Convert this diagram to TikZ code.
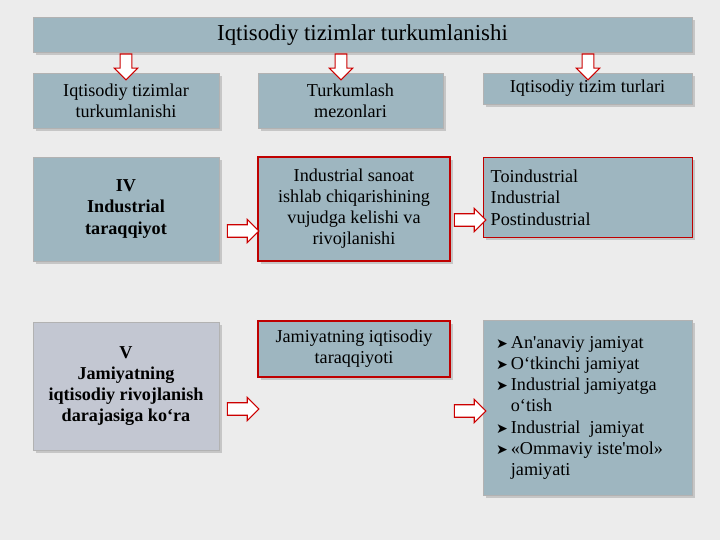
\documentclass[tikz,border=0pt]{standalone}
\usepackage{fontspec}
\setmainfont{Liberation Serif}
\newfontfamily\symfont{DejaVu Sans}
\newfontfamily\nomapfont{Liberation Serif}[Ligatures=ResetAll]
\usetikzlibrary{shapes.arrows,shadows,positioning}
\newcommand{\arrbullet}{{\symfont\fontsize{12}{14}\selectfont ➤}}
\newcommand{\apos}{{\nomapfont '}}
\tikzset{
  box/.style={draw=gray!60, fill=boxblue, drop shadow={opacity=.35}, inner sep=3pt,
    align=center, font=\fontsize{15.5}{18}\selectfont},
  redbox/.style={box, draw=red!75!black, line width=1.2pt},
  barrow/.style={single arrow, draw=red!80!black, fill=white, line width=.9pt,
    minimum height=27pt, minimum width=20pt, single arrow head extend=3pt, inner sep=3pt},
}
\definecolor{boxblue}{HTML}{9EB6C0}
\definecolor{boxgray}{HTML}{C3C7D2}
\begin{document}
\begin{tikzpicture}[x=0.03cm,y=-0.03cm]
\fill[gray!15] (0,0) rectangle (720,540);
% sarlavha
\node[box, minimum width=659*0.03cm, minimum height=35*0.03cm, font=\fontsize{19.5}{22}\selectfont] (title) at (362.5,35) {Iqtisodiy tizimlar turkumlanishi};
% birinchi qator
\node[box, minimum width=186*0.03cm, minimum height=55*0.03cm] (a1) at (126,100.5) {Iqtisodiy tizimlar\\turkumlanishi};
\node[box, minimum width=185*0.03cm, minimum height=55*0.03cm] (a2) at (350.5,100.5) {Turkumlash\\mezonlari};
\node[box, minimum width=209*0.03cm, minimum height=31*0.03cm] (a3) at (587.5,88.5) {Iqtisodiy tizim turlari};
\foreach \n/\x in {d1/126,d2/341,d3/588}
  \node[barrow, rotate=-90, minimum height=22pt, inner sep=2.5pt] (\n) at (\x,64) {};
% ikkinchi qator
\node[box, minimum width=186*0.03cm, minimum height=104*0.03cm, font=\fontsize{15.5}{18}\selectfont\bfseries] (b1) at (126,209) {IV\\Industrial\\taraqqiyot};
\node[redbox, minimum width=192*0.03cm, minimum height=104*0.03cm] (b2) at (354,209) {Industrial sanoat\\ishlab chiqarishining\\vujudga kelishi va\\rivojlanishi};
\node[redbox, minimum width=209*0.03cm, minimum height=80*0.03cm, text width=195*0.03cm, align=left, anchor=north west] (b3) at (483,157) {Toindustrial\\Industrial\\Postindustrial\\[2pt]};
\node[barrow] (r1) at (240,231) {};
\node[barrow] (r2) at (467,220) {};
% uchinchi qator
\node[box, fill=boxgray, minimum width=186*0.03cm, minimum height=128*0.03cm, font=\fontsize{15.5}{18}\selectfont\bfseries] (c1) at (126,386) {V\\Jamiyatning\\iqtisodiy rivojlanish\\darajasiga ko‘ra};
\node[redbox, minimum width=192*0.03cm, minimum height=56*0.03cm] (c2) at (354,349) {Jamiyatning iqtisodiy\\taraqqiyoti};
\node[box, minimum width=209*0.03cm, minimum height=175*0.03cm, anchor=north west, inner sep=2pt] (c3) at (483,320) {%
\begin{tabular}{@{}l@{\,}l@{}}
\arrbullet & An\apos anaviy jamiyat\\
\arrbullet & O‘tkinchi jamiyat\\
\arrbullet & Industrial jamiyatga\\
 & o‘tish\\
\arrbullet & Industrial\ \ jamiyat\\
\arrbullet & «Ommaviy iste\apos mol»\\
 & jamiyati
\end{tabular}\hspace*{14pt}};
\node[barrow] (r3) at (240,409) {};
\node[barrow] (r4) at (467,411) {};
\end{tikzpicture}
\end{document}
